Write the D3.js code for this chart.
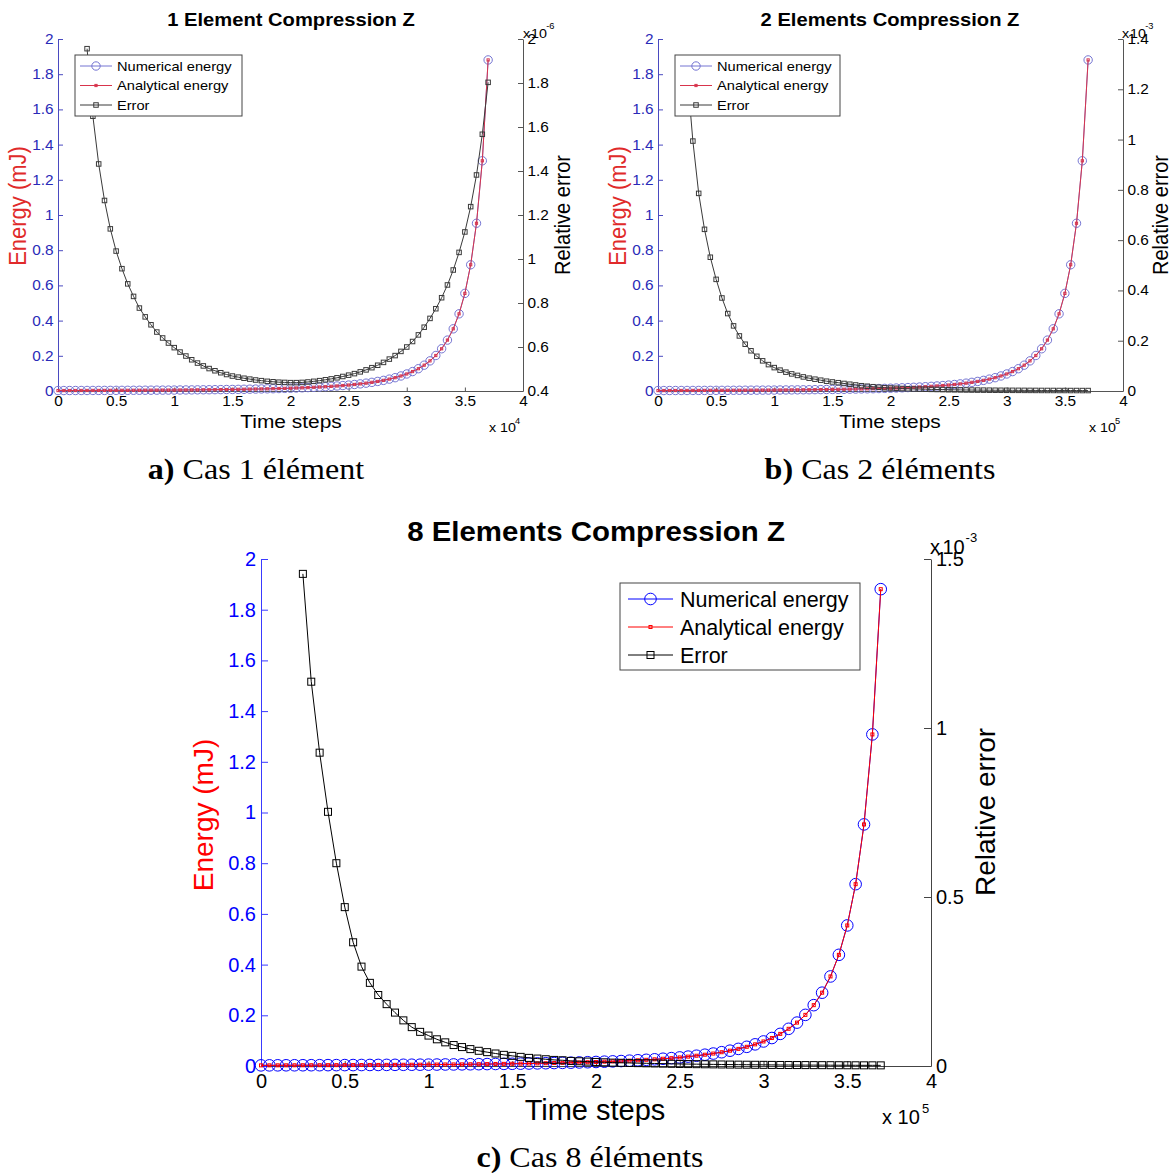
<!DOCTYPE html>
<html><head><meta charset="utf-8">
<script src="https://cdn.jsdelivr.net/npm/d3@7"></script>
<style>body{margin:0;background:#fff}svg{display:block}</style>
</head><body><svg id="fig" width="1174" height="1173"></svg>
<script>
// ---------- DATA ----------
// time steps (in units of the x-axis multiplier: x10^4 for case 1, x10^5 for cases 2 and 8)
const timeSteps = [0,0.05,0.1,0.15,0.2,0.25,0.3,0.35,0.4,0.45,0.5,0.55,0.6,0.65,0.7,0.75,0.8,0.85,0.9,0.95,
  1,1.05,1.1,1.15,1.2,1.25,1.3,1.35,1.4,1.45,1.5,1.55,1.6,1.65,1.7,1.75,1.8,1.85,1.9,1.95,
  2,2.05,2.1,2.15,2.2,2.25,2.3,2.35,2.4,2.45,2.5,2.55,2.6,2.65,2.7,2.75,2.8,2.85,2.9,2.95,
  3,3.05,3.1,3.15,3.2,3.25,3.3,3.35,3.4,3.45,3.5,3.55,3.6,3.65,3.7];
const errorSteps = timeSteps.slice(5); // error markers start at 0.25
// energy (mJ), numerical and analytical coincide
const energyMJ = [0.0025,0.0026,0.0027,0.0028,0.0029,0.0030,0.0031,0.0032,0.0034,0.0035,0.0036,0.0037,0.0039,0.0041,0.0042,0.0044,0.0046,0.0048,0.0050,0.0052,
  0.0054,0.0057,0.0060,0.0062,0.0065,0.0069,0.0072,0.0076,0.0080,0.0084,0.0088,0.0093,0.0098,0.0104,0.0110,0.0117,0.0124,0.0131,0.0140,0.0149,
  0.0159,0.0170,0.0182,0.0195,0.0210,0.0226,0.0244,0.0264,0.0286,0.0310,0.0338,0.0370,0.0405,0.0445,0.0491,0.0544,0.0604,0.0675,0.0757,0.0854,
  0.0968,0.1104,0.1267,0.1467,0.1712,0.2017,0.2400,0.2892,0.3533,0.4385,0.5545,0.7173,0.9530,1.3080,1.8810];
// relative error, case 1 (x1e-6)
const error1 = [1.956,1.649,1.432,1.266,1.137,1.036,0.956,0.887,0.830,0.777,0.737,0.701,0.668,0.641,0.618,
  0.597,0.577,0.559,0.542,0.527,0.514,0.502,0.492,0.483,0.475,0.468,0.463,0.458,0.454,0.450,0.447,0.444,0.442,0.440,0.439,
  0.438,0.438,0.439,0.441,0.444,0.447,0.451,0.455,0.460,0.466,0.472,0.479,0.487,0.496,0.506,0.517,0.530,0.545,0.561,0.580,
  0.600,0.625,0.655,0.690,0.730,0.774,0.824,0.882,0.950,1.030,1.123,1.238,1.382,1.567,1.803];
// relative error, case 2 (x1e-3)
const error2 = [1.27,0.994,0.786,0.643,0.532,0.444,0.370,0.308,0.259,0.219,0.186,0.160,0.138,0.120,0.105,
  0.093,0.083,0.075,0.068,0.062,0.056,0.051,0.047,0.043,0.039,0.036,0.033,0.030,0.027,0.024,0.021,0.019,0.017,0.015,0.013,
  0.012,0.011,0.010,0.009,0.008,0.0075,0.007,0.0065,0.006,0.0055,0.005,0.0047,0.0044,0.0041,0.0038,0.0036,0.0034,0.0032,0.003,0.0029,
  0.0028,0.0027,0.0026,0.0025,0.0024,0.0023,0.0022,0.0021,0.0021,0.002,0.002,0.0019,0.0019,0.0018,0.0018];
// relative error, case 8 (x1e-3)
const error8 = [1.456,1.137,0.927,0.752,0.600,0.470,0.366,0.294,0.246,0.210,0.183,0.158,0.135,0.115,0.101,
  0.090,0.079,0.070,0.062,0.056,0.050,0.045,0.041,0.037,0.033,0.030,0.027,0.024,0.022,0.020,0.018,0.017,0.015,0.014,0.013,
  0.012,0.011,0.010,0.0095,0.009,0.0085,0.008,0.0075,0.007,0.0065,0.006,0.0057,0.0054,0.0051,0.0048,0.0045,0.0042,0.004,0.0038,0.0036,
  0.0034,0.0032,0.003,0.0029,0.0028,0.0027,0.0026,0.0025,0.0024,0.0023,0.0022,0.0021,0.002,0.002,0.0019];
// ticks
const xTicks = [0,0.5,1,1.5,2,2.5,3,3.5,4];
const leftTicks = [0,0.2,0.4,0.6,0.8,1,1.2,1.4,1.6,1.8,2];
const rightTicks1 = [0.4,0.6,0.8,1,1.2,1.4,1.6,1.8,2];
const rightTicks2 = [0,0.2,0.4,0.6,0.8,1,1.2,1.4];
const rightTicks8 = [0,0.5,1,1.5];
const legendLabels = ['Numerical energy','Analytical energy','Error'];
const titles = ['1 Element Compression Z','2 Elements Compression Z','8 Elements Compression Z'];
const captions = [['a)',' Cas 1 élément'],['b)',' Cas 2 éléments'],['c)',' Cas 8 éléments']];

// ---------- DRAW ----------
const svg = d3.select('#fig');
svg.append('rect').attr('width',1174).attr('height',1173).attr('fill','#fff');
const SANS = 'Liberation Sans, Arial, sans-serif';
const SERIF = 'Liberation Serif, Times New Roman, serif';

function T(g, x, y, str, o) {
  let tr = `translate(${x},${y})`;
  if (o.rot) tr += ` rotate(${o.rot})`;
  if (o.sx) tr += o.rot ? ` scale(1,${o.sx})` : ` scale(${o.sx},1)`;
  return g.append('text').attr('transform', tr)
    .attr('font-family', o.family || SANS).attr('font-size', o.size)
    .attr('font-weight', o.weight || 'normal').attr('fill', o.fill || '#000')
    .attr('text-anchor', o.anchor || 'middle').attr('dy', o.dy == null ? '0.35em' : o.dy)
    .text(str);
}

function panel(p) {
  const g = svg.append('g');
  const x = d3.scaleLinear().domain([0,4]).range([p.x0, p.x1]);
  const yL = d3.scaleLinear().domain([0,2]).range([p.yb, p.yt]);
  const yR = d3.scaleLinear().domain(p.rDomain).range([p.yb, p.yt]);

  const styleTicks = (sel, fill) => {
    sel.selectAll('text').attr('font-family', SANS).attr('font-size', p.tickFs).attr('fill', fill)
      .attr('transform', p.sx ? `scale(${p.sx},1)` : null);
  };
  // bottom axis
  const gx = g.append('g').attr('transform', `translate(0,${p.yb})`)
    .call(d3.axisBottom(x).tickValues(xTicks).tickFormat(d3.format('~g')).tickSizeInner(-p.tickLen*0.7).tickSizeOuter(0).tickPadding(p.xPad));
  gx.select('.domain').attr('stroke', p.axisGray);
  gx.selectAll('.tick line').attr('stroke', p.axisGray);
  styleTicks(gx, '#000');
  // left axis
  const gl = g.append('g').attr('transform', `translate(${p.x0},0)`)
    .call(d3.axisLeft(yL).tickValues(leftTicks).tickFormat(d3.format('~g')).tickSizeInner(-p.tickLen).tickSizeOuter(0).tickPadding(p.yPad));
  gl.select('.domain').attr('stroke', p.leftAxis);
  gl.selectAll('.tick line').attr('stroke', p.leftAxis);
  styleTicks(gl, p.leftTickFill);

  // energy series (left axis)
  const lineL = d3.line().x((d,i) => x(timeSteps[i])).y(d => yL(d));
  g.append('path').datum(energyMJ).attr('d', lineL).attr('fill','none').attr('stroke', p.blue).attr('stroke-width', 1);
  g.append('g').selectAll('circle').data(energyMJ).join('circle')
    .attr('cx', (d,i) => x(timeSteps[i])).attr('cy', d => yL(d)).attr('r', p.cr)
    .attr('fill','none').attr('stroke', p.blue).attr('stroke-width', 1);
  g.append('path').datum(energyMJ).attr('d', lineL).attr('fill','none').attr('stroke', p.red).attr('stroke-width', 1);
  g.append('g').selectAll('rect').data(energyMJ).join('rect')
    .attr('x', (d,i) => x(timeSteps[i]) - p.rd/2).attr('y', d => yL(d) - p.rd/2)
    .attr('width', p.rd).attr('height', p.rd).attr('fill', 'none').attr('stroke', p.red).attr('stroke-width', 1);

  // right axis
  const gr = g.append('g').attr('transform', `translate(${p.x1},0)`)
    .call(d3.axisRight(yR).tickValues(p.rTicks).tickFormat(d3.format('~g')).tickSizeInner(-p.tickLen).tickSizeOuter(0).tickPadding(p.yPad));
  gr.select('.domain').attr('stroke', p.axisGray);
  gr.selectAll('.tick line').attr('stroke', p.axisGray);
  styleTicks(gr, '#000');

  // error series (right axis)
  const lineR = d3.line().x((d,i) => x(errorSteps[i])).y(d => yR(d));
  g.append('path').datum(p.err).attr('d', lineR).attr('fill','none').attr('stroke', p.black).attr('stroke-width', 1);
  g.append('g').selectAll('rect').data(p.err).join('rect')
    .attr('x', (d,i) => x(errorSteps[i]) - p.sq/2).attr('y', d => yR(d) - p.sq/2)
    .attr('width', p.sq).attr('height', p.sq).attr('fill','none').attr('stroke', p.black).attr('stroke-width', 1);

  // texts
  T(g, p.titleX, p.titleY, p.title, {size: p.titleFs, weight: 'bold', sx: p.tsx});
  T(g, p.eX, p.eY, 'Energy (mJ)', {size: p.eFs, fill: p.eFill, rot: -90, sx: p.sx});
  T(g, p.rX, p.rY, 'Relative error', {size: p.labFs, rot: -90, sx: p.sx});
  T(g, p.tX, p.tY, 'Time steps', {size: p.tFs, sx: p.sx});
  // multipliers
  T(g, p.mX, p.mY, 'x 10', {size: p.mFs, anchor: 'start', sx: p.sx});
  T(g, p.mX + p.mSupDx, p.mY - p.mFs*0.45, p.xExp, {size: p.mFs*0.65, anchor: 'start', sx: p.sx});
  T(g, p.rmX, p.rmY, 'x', {size: p.mFs, anchor: 'start', sx: p.sx});
  T(g, p.rmX + p.mFs*0.62, p.rmY, '10', {size: p.mFs, anchor: 'start', sx: p.sx});
  T(g, p.rmX + p.mFs*1.78, p.rmY - p.mFs*0.5, p.rExp, {size: p.mFs*0.65, anchor: 'start', sx: p.sx});

  // legend
  const L = p.leg;
  const lg = g.append('g');
  lg.append('rect').attr('x', L.x).attr('y', L.y).attr('width', L.w).attr('height', L.h)
    .attr('fill','#fff').attr('stroke', p.legStroke).attr('stroke-width', 1);
  const cols = [p.blue, p.red, p.black];
  legendLabels.forEach((lab, i) => {
    const cy = L.y + L.r0 + i * L.dr;
    lg.append('line').attr('x1', L.l0).attr('x2', L.l1).attr('y1', cy).attr('y2', cy).attr('stroke', cols[i]).attr('stroke-width', 1);
    const mx = (L.l0 + L.l1) / 2;
    if (i === 0) lg.append('circle').attr('cx', mx).attr('cy', cy).attr('r', p.cr).attr('fill','none').attr('stroke', p.blue);
    if (i === 1) lg.append('rect').attr('x', mx - p.rd/2).attr('y', cy - p.rd/2).attr('width', p.rd).attr('height', p.rd).attr('fill','none').attr('stroke', p.red);
    if (i === 2) lg.append('rect').attr('x', mx - p.sq/2).attr('y', cy - p.sq/2).attr('width', p.sq).attr('height', p.sq).attr('fill','none').attr('stroke', p.black);
    T(lg, L.tx, cy, lab, {size: L.fs, anchor: 'start', sx: p.sx});
  });

  // caption
  const c = svg.append('text').attr('x', p.capX).attr('y', p.capY).attr('text-anchor','middle')
    .attr('font-family', SERIF).attr('font-size', p.capFs).attr('fill','#000')
    .attr('transform', p.capSx ? `translate(${p.capX},0) scale(${p.capSx},1) translate(${-p.capX},0)` : null);
  c.append('tspan').attr('font-weight','bold').text(p.caption[0]);
  c.append('tspan').text(p.caption[1]);
}

const small = {
  yb: 391, yt: 39, tickLen: 5, tickFs: 14, xPad: 5, yPad: 4, sx: 1.1, tsx: 1.12,
  axisGray: '#555', leftAxis: '#4a4ac0', leftTickFill: '#2a2ab8',
  blue: '#7474d2', red: '#d8344c', black: '#3a3a3a', legStroke: '#444',
  cr: 4.2, rd: 2.2, sq: 4.5, titleFs: 18, labFs: 20, eFs: 22, tFs: 19, eFill: '#e02a2a',
  mFs: 13, mSupDx: 26, capFs: 30, capSx: 1.07, titleY: 20, tY: 421, eY: 206, rY: 215,
  mY: 427, rmY: 33
};
panel(Object.assign({}, small, {
  x0: 58, x1: 523, rDomain: [0.4, 2], rTicks: rightTicks1, err: error1,
  title: titles[0], titleX: 291, eX: 18, rX: 562, tX: 291, mX: 489, xExp: '4', rmX: 523, rExp: '-6',
  leg: {x: 75, y: 55, w: 167, h: 61, r0: 11, dr: 19.5, l0: 80, l1: 112, tx: 117, fs: 13.3},
  capX: 256, capY: 479, caption: captions[0]
}));
panel(Object.assign({}, small, {
  x0: 658, x1: 1123, rDomain: [0, 1.4], rTicks: rightTicks2, err: error2,
  title: titles[1], titleX: 890, eX: 618, rX: 1160, tX: 890, mX: 1089, xExp: '5', rmX: 1122, rExp: '-3',
  leg: {x: 675, y: 55, w: 165, h: 61, r0: 11, dr: 19.5, l0: 680, l1: 712, tx: 717, fs: 13.3},
  capX: 880, capY: 479, caption: captions[1]
}));
panel({
  x0: 261, x1: 931, yb: 1066, yt: 559, rDomain: [0, 1.5], rTicks: rightTicks8, err: error8,
  tickLen: 7, tickFs: 20, xPad: 8, yPad: 5, sx: 1.0, tsx: 1.09,
  axisGray: '#444', leftAxis: '#3a3aff', leftTickFill: '#0000ff',
  blue: '#0000ff', red: '#ff0000', black: '#000', legStroke: '#444',
  cr: 5.8, rd: 3, sq: 7, titleFs: 27, labFs: 28, eFs: 28, tFs: 29, eFill: '#ff0000',
  title: titles[2], titleX: 596, titleY: 532, eX: 203, eY: 815, rX: 985, rY: 812, tX: 595, tY: 1110,
  mFs: 20, mSupDx: 40, mX: 882, mY: 1117, xExp: '5', rmX: 930, rmY: 547, rExp: '-3',
  leg: {x: 620, y: 583, w: 240, h: 87, r0: 16, dr: 28, l0: 628, l1: 673, tx: 680, fs: 21.5},
  capX: 590, capY: 1167, capFs: 30, capSx: 1.07, caption: captions[2]
});
</script></body></html>
